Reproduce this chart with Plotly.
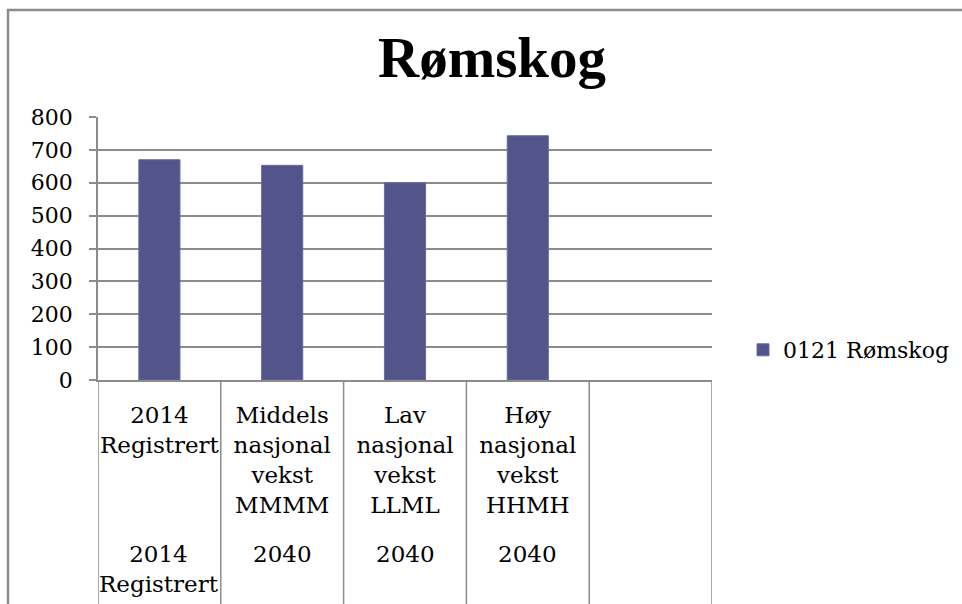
import plotly.graph_objects as go

# ---- data ----
categories = ["2014 Registrert", "Middels MMMM", "Lav LLML", "Høy HHMH", "(tom)"]
level1_labels = ["2014<br>Registrert", "Middels<br>nasjonal<br>vekst<br>MMMM",
                 "Lav<br>nasjonal<br>vekst<br>LLML", "Høy<br>nasjonal<br>vekst<br>HHMH", ""]
level2_labels = ["2014<br>Registrert", "2040", "2040", "2040", ""]
values = [670, 653, 600, 743, None]
series_name = "0121 Rømskog"
title_text = "Rømskog"
y_ticks = [0, 100, 200, 300, 400, 500, 600, 700, 800]

FONT = "DejaVu Serif"
GRID = "#8c8c8c"
BAR = "#53548a"

W, H = 962, 604
L, R, T, B = 98, 250, 117, 224
plot_h = H - T - B
plot_w = W - L - R

fig = go.Figure()
fig.add_trace(go.Bar(
    x=categories, y=values, name=series_name,
    marker=dict(color=BAR, line=dict(color="#6a6b9e", width=1)),
    width=0.335, showlegend=True,
))

shapes = []
n = len(categories)
for i in range(n + 1):
    shapes.append(dict(type="line", xref="x", yref="paper",
                       x0=i - 0.5, x1=i - 0.5, y0=0, y1=-(B + 4) / plot_h,
                       line=dict(color=GRID, width=1.5)))
# chart border (top and left visible)
shapes.append(dict(type="rect", xref="paper", yref="paper",
                   x0=(8 - L) / plot_w, x1=(W + 20 - L) / plot_w,
                   y0=-(B + 20) / plot_h, y1=(H - B - 10) / plot_h,
                   line=dict(color="#8c8c8c", width=2.5), layer="below"))

annotations = []
for c, lab in zip(categories, level2_labels):
    if lab:
        annotations.append(dict(x=c, xref="x", y=-(539 - (H - B)) / plot_h, yref="paper",
                                text=lab, showarrow=False, yanchor="top", xanchor="center",
                                font=dict(family=FONT, size=23, color="black")))

fig.update_layout(
    width=W, height=H,
    margin=dict(l=L, r=R, t=T, b=B),
    paper_bgcolor="white", plot_bgcolor="white",
    title=dict(text="<b>" + title_text + "</b>", x=492 / W, xanchor="center",
               y=1 - 57 / H, yanchor="middle",
               font=dict(family="Liberation Serif", size=57, color="black")),
    xaxis=dict(type="category", categoryorder="array", categoryarray=categories,
               tickvals=categories, ticktext=level1_labels,
               range=[-0.5, n - 0.5], showgrid=False,
               showline=True, linecolor=GRID, linewidth=1.5,
               ticks="", ticklabelstandoff=14,
               tickfont=dict(family=FONT, size=23, color="black")),
    yaxis=dict(range=[0, 800], tickvals=y_ticks, showgrid=True, gridcolor=GRID, gridwidth=1.5,
               showline=True, linecolor=GRID, linewidth=1.5,
               ticks="outside", ticklen=7, tickcolor=GRID, tickwidth=1.5,
               ticklabelstandoff=12, zeroline=False,
               tickfont=dict(family=FONT, size=22, color="black")),
    legend=dict(xref="container", yref="container",
                x=955 / W, xanchor="right", y=1 - 350 / H, yanchor="middle",
                font=dict(family=FONT, size=22, color="black"), itemwidth=30,
                bgcolor="rgba(0,0,0,0)"),
    shapes=shapes, annotations=annotations,
)

fig.write_html("out.html", config={"displayModeBar": False},
               post_script="document.body.style.margin='0px';")
